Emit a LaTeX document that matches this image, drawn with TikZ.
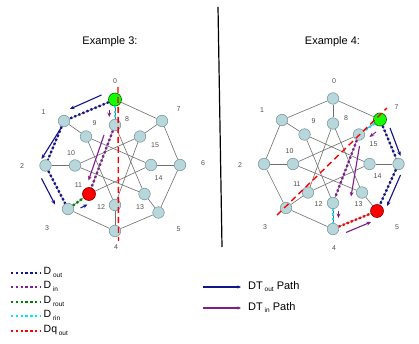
\documentclass[tikz,border=0pt]{standalone}
\usepackage{fontspec}
\setmainfont{Liberation Sans}
\usetikzlibrary{arrows.meta}
\pgfdeclarelayer{background}
\pgfsetlayers{background,main}

\definecolor{nodefill}{RGB}{183,215,219}
\definecolor{nodedraw}{RGB}{125,155,162}
\definecolor{edgegray}{RGB}{110,110,110}
\definecolor{dnavy}{RGB}{20,20,140}
\definecolor{dpurple}{RGB}{128,30,140}
\definecolor{dgreen}{RGB}{0,128,0}
\definecolor{dcyan}{RGB}{0,230,255}
\definecolor{dred}{RGB}{255,0,0}
\definecolor{lblgray}{RGB}{80,80,80}
\newcommand\lsub[1]{\,\raisebox{-2.5pt}{\fontsize{6.5}{7}\selectfont #1}}

\begin{document}
\begin{tikzpicture}[x=1pt,y=-1pt,
  vtx/.style={circle,draw=nodedraw,fill=nodefill,line width=0.6pt,minimum size=11.5pt,inner sep=0pt},
  startv/.style={vtx,fill=green!90!lime,draw=green!40!black,minimum size=13pt},
  endv/.style={vtx,fill=dred,draw=red!50!black,minimum size=13pt},
  gedge/.style={draw=edgegray,line width=0.6pt},
  lbl/.style={font=\fontsize{7}{8}\selectfont,text=lblgray,inner sep=0pt},
  dots/.style={line width=2.3pt,dash pattern=on 2.2pt off 2.2pt},
  legdots/.style={line width=2.3pt,dash pattern=on 2.4pt off 2.4pt},
  qline/.style={draw=dred,line width=1.4pt,dash pattern=on 6pt off 4pt},
  arr/.style={line width=1.1pt,-{Stealth[length=4.5pt,width=3.8pt]}},
  title/.style={font=\fontsize{11}{13}\selectfont,inner sep=0pt},
  legtxt/.style={font=\fontsize{10.5}{12}\selectfont,anchor=west,inner sep=0pt}
]
\useasboundingbox (0,0) rectangle (419,344);

% titles
\node[title] (t3) at (110,42) {Example 3:};
\node[title] (t4) at (332.5,42) {Example 4:};

% divider
\coordinate (dvA) at (218,7);
\coordinate (dvB) at (222,247);
\draw[line width=1.2pt] (dvA) -- (dvB);

% ---------- Example 3 nodes ----------
\node[startv] (L0) at (115,99.5) {};
\node[vtx] (L1) at (64,121) {};
\node[vtx] (L2) at (45.5,165.5) {};
\node[vtx] (L3) at (68,209) {};
\node[vtx] (L4) at (115,231) {};
\node[vtx] (L5) at (158.5,212.5) {};
\node[vtx] (L6) at (180,165) {};
\node[vtx] (L7) at (162,121) {};
\node[vtx] (L8) at (115,125) {};
\node[vtx] (L9) at (86,136.5) {};
\node[vtx] (L10) at (75,165.5) {};
\node[endv] (L11) at (89,194) {};
\node[vtx] (L12) at (115,205) {};
\node[vtx] (L13) at (144.5,194) {};
\node[vtx] (L14) at (151,165) {};
\node[vtx] (L15) at (140,136.5) {};

% ---------- Example 4 nodes ----------
\node[vtx] (R0) at (333,98.5) {};
\node[vtx] (R1) at (282,120) {};
\node[vtx] (R2) at (264,164) {};
\node[vtx] (R3) at (286,208) {};
\node[vtx] (R4) at (333,229) {};
\node[endv] (R5) at (377,211) {};
\node[vtx] (R6) at (398.5,164) {};
\node[startv] (R7) at (380,119.5) {};
\node[vtx] (R8) at (333,123.5) {};
\node[vtx] (R9) at (304.5,134.5) {};
\node[vtx] (R10) at (293,164) {};
\node[vtx] (R11) at (308,192.5) {};
\node[vtx] (R12) at (333,203) {};
\node[vtx] (R13) at (362,192.5) {};
\node[vtx] (R14) at (369.5,164) {};
\node[vtx] (R15) at (359,134.5) {};

% background and edges (generalized Petersen graph GP(8,3))
\begin{pgfonlayer}{background}
\fill[white] (0,0) rectangle (419,344);
\foreach \p in {L,R}{
  \foreach \i in {0,...,7}{
    \pgfmathtruncatemacro{\j}{mod(\i+1,8)}
    \pgfmathtruncatemacro{\k}{\i+8}
    \pgfmathtruncatemacro{\m}{8+mod(\i+3,8)}
    \draw[gedge] (\p\i) -- (\p\j);
    \draw[gedge] (\p\i) -- (\p\k);
    \draw[gedge] (\p\k) -- (\p\m);
  }
}
\end{pgfonlayer}

% node labels Example 3
\node[lbl] (lL0) at (115,81) {0};
\node[lbl] (lL1) at (43.5,112) {1};
\node[lbl] (lL2) at (22,166) {2};
\node[lbl] (lL3) at (47,228.5) {3};
\node[lbl] (lL4) at (116,247) {4};
\node[lbl] (lL5) at (178.5,229) {5};
\node[lbl] (lL6) at (203,163.5) {6};
\node[lbl] (lL7) at (178.5,109) {7};
\node[lbl] (lL8) at (127,119.5) {8};
\node[lbl] (lL9) at (94.5,123) {9};
\node[lbl] (lL10) at (71,153) {10};
\node[lbl] (lL11) at (78.5,185) {11};
\node[lbl] (lL12) at (101,207.5) {12};
\node[lbl] (lL13) at (140,207.5) {13};
\node[lbl] (lL14) at (158.5,178) {14};
\node[lbl] (lL15) at (155,145) {15};

% node labels Example 4
\node[lbl] (lR0) at (334,81) {0};
\node[lbl] (lR1) at (262,110.5) {1};
\node[lbl] (lR2) at (240,165) {2};
\node[lbl] (lR3) at (265,227) {3};
\node[lbl] (lR4) at (334,248) {4};
\node[lbl] (lR5) at (397,227) {5};
\node[lbl] (lR7) at (396.5,107) {7};
\node[lbl] (lR8) at (346,118) {8};
\node[lbl] (lR9) at (313.5,121) {9};
\node[lbl] (lR10) at (289.5,151) {10};
\node[lbl] (lR11) at (297,184) {11};
\node[lbl] (lR12) at (318.5,204.5) {12};
\node[lbl] (lR13) at (358.5,204.5) {13};
\node[lbl] (lR14) at (377.5,176) {14};
\node[lbl] (lR15) at (373.5,144) {15};

% ---------- Example 3 paths ----------
\draw[dots,draw=dnavy] (L0) -- (L1) -- (L2) -- (L3);
\draw[dots,draw=dgreen] (L3) -- (L11);
\draw[dots,draw=dpurple] (L8) -- (L11);
\draw[dots,draw=dcyan] (L0) -- (L8);
\coordinate (qL1) at (118,87);
\coordinate (qL2) at (118.5,241);
\draw[qline] (qL1) -- (qL2);

\coordinate (a1s) at (101.5,95);   \coordinate (a1e) at (70,109);
\coordinate (a2s) at (61,128);     \coordinate (a2e) at (41.5,159);
\coordinate (a3s) at (41.5,178.5); \coordinate (a3e) at (55,204.5);
\coordinate (a4s) at (80.5,208);   \coordinate (a4e) at (87.5,204.5);
\draw[arr,draw=dnavy,fill=dnavy] (a1s) -- (a1e);
\draw[arr,draw=dnavy,fill=dnavy] (a2s) -- (a2e);
\draw[arr,draw=dnavy,fill=dnavy] (a3s) -- (a3e);
\draw[arr,draw=dnavy,fill=dnavy,line width=0.9pt] (a4s) -- (a4e);
\coordinate (p1s) at (104,135);    \coordinate (p1e) at (88.5,180.5);
\coordinate (p2s) at (109.3,110);  \coordinate (p2e) at (109.3,117);
\draw[arr,draw=dpurple,fill=dpurple] (p1s) -- (p1e);
\draw[arr,draw=dpurple,fill=dpurple,line width=0.9pt] (p2s) -- (p2e);

% ---------- Example 4 paths ----------
\draw[dots,draw=dnavy] (R7) -- (R6) -- (R5);
\draw[dots,draw=dcyan] (R7) -- (R15);
\draw[dots,draw=dpurple] (R15) -- (R12);
\draw[dots,draw=dcyan] (R12) -- (R4);
\draw[dots,draw=dred] (R4) -- (R5);
\coordinate (qR1) at (277,215);
\coordinate (qR2) at (387,108);
\draw[qline] (qR1) -- (qR2);

\coordinate (b1s) at (390,128);    \coordinate (b1e) at (400.5,156);
\coordinate (b2s) at (400.5,175);  \coordinate (b2e) at (387,206);
\draw[arr,draw=dnavy,fill=dnavy] (b1s) -- (b1e);
\draw[arr,draw=dnavy,fill=dnavy] (b2s) -- (b2e);
\coordinate (c1s) at (359.5,146);  \coordinate (c1e) at (351,196.5);
\coordinate (c2s) at (346,232.5);  \coordinate (c2e) at (371,222);
\coordinate (c3s) at (376,132);    \coordinate (c3e) at (369.5,137);
\coordinate (c4s) at (338.5,211);  \coordinate (c4e) at (338.5,218);
\draw[arr,draw=dpurple,fill=dpurple] (c1s) -- (c1e);
\draw[arr,draw=dpurple,fill=dpurple] (c2s) -- (c2e);
\draw[arr,draw=dpurple,fill=dpurple,line width=0.9pt] (c3s) -- (c3e);
\draw[arr,draw=dpurple,fill=dpurple,line width=0.9pt] (c4s) -- (c4e);

% ---------- legend ----------
\coordinate (g1a) at (11,273); \coordinate (g1b) at (40,273);
\coordinate (g2a) at (11,287); \coordinate (g2b) at (40,287);
\coordinate (g3a) at (11,302); \coordinate (g3b) at (40,302);
\coordinate (g4a) at (11,316); \coordinate (g4b) at (40,316);
\coordinate (g5a) at (11,331); \coordinate (g5b) at (40,331);
\draw[legdots,draw=dnavy] (g1a) -- (g1b);
\draw[legdots,draw=dpurple] (g2a) -- (g2b);
\draw[legdots,draw=dgreen] (g3a) -- (g3b);
\draw[legdots,draw=dcyan] (g4a) -- (g4b);
\draw[legdots,draw=dred] (g5a) -- (g5b);
\node[legtxt] (k1) at (43.5,272.5) {D\lsub{out}};
\node[legtxt] (k2) at (43.5,286.5) {D\lsub{in}};
\node[legtxt] (k3) at (43.5,301.5) {D\lsub{rout}};
\node[legtxt] (k4) at (43.5,315.5) {D\lsub{rin}};
\node[legtxt] (k5) at (43.5,330.5) {Dq\lsub{out}};

\coordinate (h1a) at (203,287); \coordinate (h1b) at (241,287);
\coordinate (h2a) at (203,308); \coordinate (h2b) at (241,308);
\draw[draw=dnavy,fill=dnavy,line width=1.1pt,-{Stealth[length=3.5pt,width=3pt]}] (h1a) -- (h1b);
\draw[draw=dpurple,fill=dpurple,line width=1.1pt,-{Stealth[length=3.5pt,width=3pt]}] (h2a) -- (h2b);
\node[legtxt,font=\fontsize{11}{13}\selectfont] (k6) at (248,286.5) {DT\lsub{out} Path};
\node[legtxt,font=\fontsize{11}{13}\selectfont] (k7) at (248,307.5) {DT\lsub{in} Path};
\end{tikzpicture}
\end{document}
